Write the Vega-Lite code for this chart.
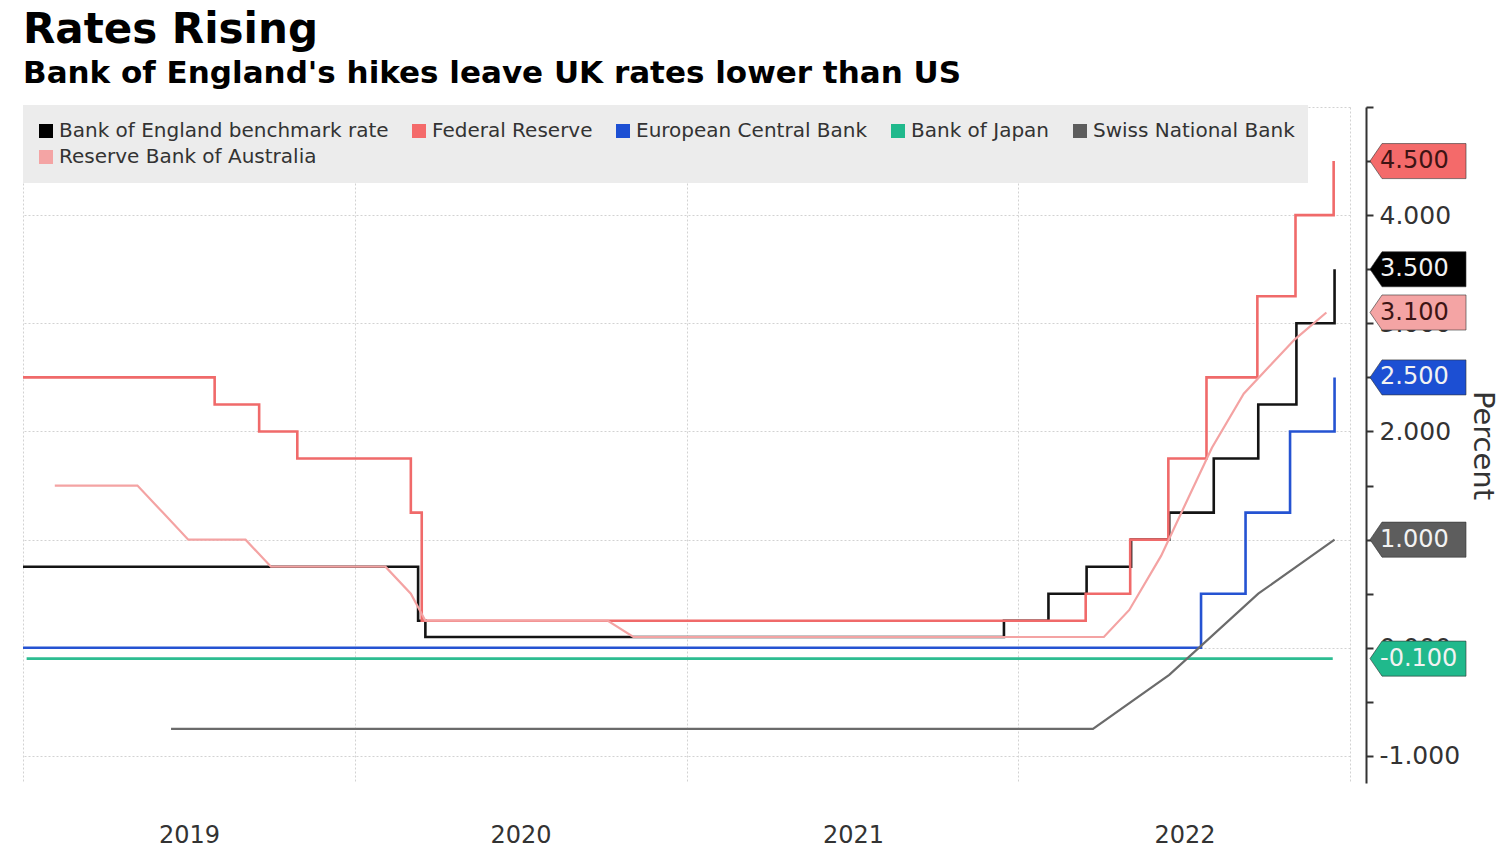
{
  "$schema": "https://vega.github.io/schema/vega-lite/v6.json",
  "width": 1327,
  "height": 676,
  "autosize": {"type": "none"},
  "padding": {"left": 23, "top": 107, "right": 150, "bottom": 67},
  "background": "white",
  "title": {
    "text": "Rates Rising",
    "subtitle": "Bank of England's hikes leave UK rates lower than US",
    "anchor": "start",
    "frame": "group",
    "font": "DejaVu Sans",
    "fontSize": 42,
    "fontWeight": "bold",
    "color": "#000000",
    "subtitleFont": "DejaVu Sans",
    "subtitleFontSize": 31,
    "subtitleFontWeight": "bold",
    "subtitleColor": "#000000",
    "subtitlePadding": 7,
    "offset": 5
  },
  "datasets": {
    "rates": [
      {"bank": "Bank of England benchmark rate", "date": "2019-01-01", "value": 0.75},
      {"bank": "Bank of England benchmark rate", "date": "2020-03-11", "value": 0.25},
      {"bank": "Bank of England benchmark rate", "date": "2020-03-19", "value": 0.1},
      {"bank": "Bank of England benchmark rate", "date": "2021-12-16", "value": 0.25},
      {"bank": "Bank of England benchmark rate", "date": "2022-02-03", "value": 0.5},
      {"bank": "Bank of England benchmark rate", "date": "2022-03-17", "value": 0.75},
      {"bank": "Bank of England benchmark rate", "date": "2022-05-05", "value": 1.0},
      {"bank": "Bank of England benchmark rate", "date": "2022-06-16", "value": 1.25},
      {"bank": "Bank of England benchmark rate", "date": "2022-08-04", "value": 1.75},
      {"bank": "Bank of England benchmark rate", "date": "2022-09-22", "value": 2.25},
      {"bank": "Bank of England benchmark rate", "date": "2022-11-03", "value": 3.0},
      {"bank": "Bank of England benchmark rate", "date": "2022-12-15", "value": 3.5},
      {"bank": "Federal Reserve", "date": "2019-01-01", "value": 2.5},
      {"bank": "Federal Reserve", "date": "2019-07-31", "value": 2.25},
      {"bank": "Federal Reserve", "date": "2019-09-18", "value": 2.0},
      {"bank": "Federal Reserve", "date": "2019-10-30", "value": 1.75},
      {"bank": "Federal Reserve", "date": "2020-03-03", "value": 1.25},
      {"bank": "Federal Reserve", "date": "2020-03-15", "value": 0.25},
      {"bank": "Federal Reserve", "date": "2022-03-16", "value": 0.5},
      {"bank": "Federal Reserve", "date": "2022-05-04", "value": 1.0},
      {"bank": "Federal Reserve", "date": "2022-06-15", "value": 1.75},
      {"bank": "Federal Reserve", "date": "2022-07-27", "value": 2.5},
      {"bank": "Federal Reserve", "date": "2022-09-21", "value": 3.25},
      {"bank": "Federal Reserve", "date": "2022-11-02", "value": 4.0},
      {"bank": "Federal Reserve", "date": "2022-12-14", "value": 4.5},
      {"bank": "European Central Bank", "date": "2019-01-01", "value": 0.0},
      {"bank": "European Central Bank", "date": "2022-07-21", "value": 0.5},
      {"bank": "European Central Bank", "date": "2022-09-08", "value": 1.25},
      {"bank": "European Central Bank", "date": "2022-10-27", "value": 2.0},
      {"bank": "European Central Bank", "date": "2022-12-15", "value": 2.5},
      {"bank": "Bank of Japan", "date": "2019-01-05", "value": -0.1},
      {"bank": "Bank of Japan", "date": "2022-12-13", "value": -0.1},
      {"bank": "Swiss National Bank", "date": "2019-06-13", "value": -0.75},
      {"bank": "Swiss National Bank", "date": "2019-09-19", "value": -0.75},
      {"bank": "Swiss National Bank", "date": "2019-12-12", "value": -0.75},
      {"bank": "Swiss National Bank", "date": "2020-03-19", "value": -0.75},
      {"bank": "Swiss National Bank", "date": "2020-06-18", "value": -0.75},
      {"bank": "Swiss National Bank", "date": "2020-09-24", "value": -0.75},
      {"bank": "Swiss National Bank", "date": "2020-12-17", "value": -0.75},
      {"bank": "Swiss National Bank", "date": "2021-03-25", "value": -0.75},
      {"bank": "Swiss National Bank", "date": "2021-06-17", "value": -0.75},
      {"bank": "Swiss National Bank", "date": "2021-09-23", "value": -0.75},
      {"bank": "Swiss National Bank", "date": "2021-12-16", "value": -0.75},
      {"bank": "Swiss National Bank", "date": "2022-03-24", "value": -0.75},
      {"bank": "Swiss National Bank", "date": "2022-06-16", "value": -0.25},
      {"bank": "Swiss National Bank", "date": "2022-09-22", "value": 0.5},
      {"bank": "Swiss National Bank", "date": "2022-12-15", "value": 1.0},
      {"bank": "Reserve Bank of Australia", "date": "2019-02-05", "value": 1.5},
      {"bank": "Reserve Bank of Australia", "date": "2019-03-05", "value": 1.5},
      {"bank": "Reserve Bank of Australia", "date": "2019-04-02", "value": 1.5},
      {"bank": "Reserve Bank of Australia", "date": "2019-05-07", "value": 1.5},
      {"bank": "Reserve Bank of Australia", "date": "2019-06-04", "value": 1.25},
      {"bank": "Reserve Bank of Australia", "date": "2019-07-02", "value": 1.0},
      {"bank": "Reserve Bank of Australia", "date": "2019-08-06", "value": 1.0},
      {"bank": "Reserve Bank of Australia", "date": "2019-09-03", "value": 1.0},
      {"bank": "Reserve Bank of Australia", "date": "2019-10-01", "value": 0.75},
      {"bank": "Reserve Bank of Australia", "date": "2019-11-05", "value": 0.75},
      {"bank": "Reserve Bank of Australia", "date": "2019-12-03", "value": 0.75},
      {"bank": "Reserve Bank of Australia", "date": "2020-02-04", "value": 0.75},
      {"bank": "Reserve Bank of Australia", "date": "2020-03-03", "value": 0.5},
      {"bank": "Reserve Bank of Australia", "date": "2020-03-19", "value": 0.25},
      {"bank": "Reserve Bank of Australia", "date": "2020-04-07", "value": 0.25},
      {"bank": "Reserve Bank of Australia", "date": "2020-05-05", "value": 0.25},
      {"bank": "Reserve Bank of Australia", "date": "2020-06-02", "value": 0.25},
      {"bank": "Reserve Bank of Australia", "date": "2020-07-07", "value": 0.25},
      {"bank": "Reserve Bank of Australia", "date": "2020-08-04", "value": 0.25},
      {"bank": "Reserve Bank of Australia", "date": "2020-09-01", "value": 0.25},
      {"bank": "Reserve Bank of Australia", "date": "2020-10-06", "value": 0.25},
      {"bank": "Reserve Bank of Australia", "date": "2020-11-03", "value": 0.1},
      {"bank": "Reserve Bank of Australia", "date": "2020-12-01", "value": 0.1},
      {"bank": "Reserve Bank of Australia", "date": "2021-02-02", "value": 0.1},
      {"bank": "Reserve Bank of Australia", "date": "2021-03-02", "value": 0.1},
      {"bank": "Reserve Bank of Australia", "date": "2021-04-06", "value": 0.1},
      {"bank": "Reserve Bank of Australia", "date": "2021-05-04", "value": 0.1},
      {"bank": "Reserve Bank of Australia", "date": "2021-06-01", "value": 0.1},
      {"bank": "Reserve Bank of Australia", "date": "2021-07-06", "value": 0.1},
      {"bank": "Reserve Bank of Australia", "date": "2021-08-03", "value": 0.1},
      {"bank": "Reserve Bank of Australia", "date": "2021-09-07", "value": 0.1},
      {"bank": "Reserve Bank of Australia", "date": "2021-10-05", "value": 0.1},
      {"bank": "Reserve Bank of Australia", "date": "2021-11-02", "value": 0.1},
      {"bank": "Reserve Bank of Australia", "date": "2021-12-07", "value": 0.1},
      {"bank": "Reserve Bank of Australia", "date": "2022-02-01", "value": 0.1},
      {"bank": "Reserve Bank of Australia", "date": "2022-03-01", "value": 0.1},
      {"bank": "Reserve Bank of Australia", "date": "2022-04-05", "value": 0.1},
      {"bank": "Reserve Bank of Australia", "date": "2022-05-03", "value": 0.35},
      {"bank": "Reserve Bank of Australia", "date": "2022-06-07", "value": 0.85},
      {"bank": "Reserve Bank of Australia", "date": "2022-07-05", "value": 1.35},
      {"bank": "Reserve Bank of Australia", "date": "2022-08-02", "value": 1.85},
      {"bank": "Reserve Bank of Australia", "date": "2022-09-06", "value": 2.35},
      {"bank": "Reserve Bank of Australia", "date": "2022-10-04", "value": 2.6},
      {"bank": "Reserve Bank of Australia", "date": "2022-11-01", "value": 2.85},
      {"bank": "Reserve Bank of Australia", "date": "2022-12-06", "value": 3.1}
    ],
    "tags": [
      {"bank": "Federal Reserve", "date": "2023-01-01", "value": 4.5},
      {"bank": "Bank of England benchmark rate", "date": "2023-01-01", "value": 3.5},
      {"bank": "Reserve Bank of Australia", "date": "2023-01-01", "value": 3.1},
      {"bank": "European Central Bank", "date": "2023-01-01", "value": 2.5},
      {"bank": "Swiss National Bank", "date": "2023-01-01", "value": 1.0},
      {"bank": "Bank of Japan", "date": "2023-01-01", "value": -0.1}
    ]
  },
  "encoding": {
    "x": {
      "field": "date",
      "type": "temporal",
      "scale": {
        "type": "utc",
        "domain": [
          {"year": 2019, "month": 1, "date": 1, "utc": true},
          {"year": 2023, "month": 1, "date": 1, "utc": true}
        ]
      },
      "axis": {
        "title": null,
        "values": [
          {"year": 2019, "month": 1, "date": 1, "utc": true},
          {"year": 2020, "month": 1, "date": 1, "utc": true},
          {"year": 2021, "month": 1, "date": 1, "utc": true},
          {"year": 2022, "month": 1, "date": 1, "utc": true},
          {"year": 2023, "month": 1, "date": 1, "utc": true}
        ],
        "labelExpr": "utcFormat(datum.value, '%Y') == '2023' ? '' : utcFormat(datum.value, '%Y')",
        "labelOffset": 166,
        "ticks": false,
        "domain": false,
        "grid": true,
        "gridColor": "#d2d2d2",
        "gridDash": [2, 2],
        "gridWidth": 1,
        "labelFont": "DejaVu Sans",
        "labelFontSize": 24,
        "labelColor": "#333333",
        "labelPadding": 40,
        "labelOverlap": false,
        "labelFlush": false,
        "labelBound": false
      }
    },
    "y": {
      "field": "value",
      "type": "quantitative",
      "scale": {"domain": [-1.25, 5], "nice": false, "zero": false},
      "axis": {
        "orient": "right",
        "offset": 16,
        "title": "Percent",
        "titleFont": "DejaVu Sans",
        "titleFontSize": 29,
        "titleFontWeight": "normal",
        "titleColor": "#333333",
        "titlePadding": 8,
        "values": [-1, -0.5, 0, 0.5, 1, 1.5, 2, 2.5, 3, 3.5, 4, 4.5, 5],
        "labelExpr": "(datum.value % 1 === 0 && datum.value < 5) ? ((datum.value < 0 ? '-' : '') + format(abs(datum.value), '.3f')) : ''",
        "domainColor": "#333333",
        "domainWidth": 2,
        "tickColor": "#333333",
        "tickWidth": 2,
        "tickSize": 7,
        "labelFont": "DejaVu Sans",
        "labelFontSize": 25,
        "labelColor": "#333333",
        "labelPadding": 6,
        "labelOverlap": false,
        "labelBound": false,
        "labelFlush": false,
        "grid": true,
        "gridColor": "#d2d2d2",
        "gridDash": [2, 2],
        "gridOpacity": {"condition": {"test": "datum.value % 1 !== 0", "value": 0}, "value": 1}
      }
    }
  },
  "layer": [
    {
      "data": {"name": "rates"},
      "transform": [{"filter": "datum.bank !== 'Swiss National Bank' && datum.bank !== 'Reserve Bank of Australia'"}],
      "mark": {"type": "line", "interpolate": "step-after", "strokeWidth": 2.6},
      "encoding": {
        "color": {
          "field": "bank",
          "type": "nominal",
          "scale": {
            "domain": ["Bank of England benchmark rate", "Federal Reserve", "European Central Bank", "Bank of Japan", "Swiss National Bank", "Reserve Bank of Australia"],
            "range": ["#141414", "#f06a6a", "#2553d2", "#2dbd92", "#6b6b6b", "#f4a3a3"]
          },
          "legend": {
            "title": null,
            "orient": "none",
            "legendX": 0,
            "legendY": -2,
            "direction": "horizontal",
            "columns": 5,
            "fillColor": "#ececec",
            "padding": 13,
            "clipHeight": 26,
            "symbolType": "square",
            "symbolSize": 196,
            "symbolStrokeWidth": 0,
            "labelFont": "DejaVu Sans",
            "labelFontSize": 20,
            "labelColor": "#333333",
            "labelLimit": 0,
            "labelOffset": 3,
            "columnPadding": 20,
            "rowPadding": 0,
            "encode": {
              "symbols": {"update": {"fill": {"scale": "color", "field": "value"}, "stroke": {"value": "transparent"}}}
            }
          }
        },
        "detail": {"field": "bank"}
      }
    },
    {
      "data": {"name": "rates"},
      "transform": [{"filter": "datum.bank === 'Swiss National Bank' || datum.bank === 'Reserve Bank of Australia'"}],
      "mark": {"type": "line", "interpolate": "linear", "strokeWidth": 2.2},
      "encoding": {
        "color": {"field": "bank", "type": "nominal"}
      }
    },
    {
      "data": {"name": "tags"},
      "mark": {
        "type": "point",
        "shape": "M-1,0L-0.75,-0.365L1,-0.365L1,0.365L-0.75,0.365Z",
        "size": 9216,
        "filled": true,
        "opacity": 1,
        "xOffset": 68,
        "stroke": "#333333",
        "strokeWidth": 1,
        "strokeOpacity": 0.6
      },
      "encoding": {
        "fill": {
          "field": "bank",
          "type": "nominal",
          "scale": {
            "domain": ["Bank of England benchmark rate", "Federal Reserve", "European Central Bank", "Bank of Japan", "Swiss National Bank", "Reserve Bank of Australia"],
            "range": ["#000000", "#f46a6a", "#1c4fd3", "#20b98c", "#5d5d5d", "#f4a4a4"]
          },
          "legend": null
        }
      }
    },
    {
      "data": {"name": "tags"},
      "transform": [{"calculate": "(datum.value < 0 ? '-' : '') + format(abs(datum.value), '.3f')", "as": "label"}],
      "mark": {
        "type": "text",
        "align": "left",
        "baseline": "middle",
        "xOffset": 30,
        "font": "DejaVu Sans",
        "fontSize": 24
      },
      "encoding": {
        "text": {"field": "label", "type": "nominal"},
        "color": {
          "condition": {"test": "datum.bank === 'Federal Reserve' || datum.bank === 'Reserve Bank of Australia'", "value": "#3d1414"},
          "value": "#f2f2f2"
        }
      }
    }
  ],
  "config": {
    "view": {"stroke": null}
  }
}
